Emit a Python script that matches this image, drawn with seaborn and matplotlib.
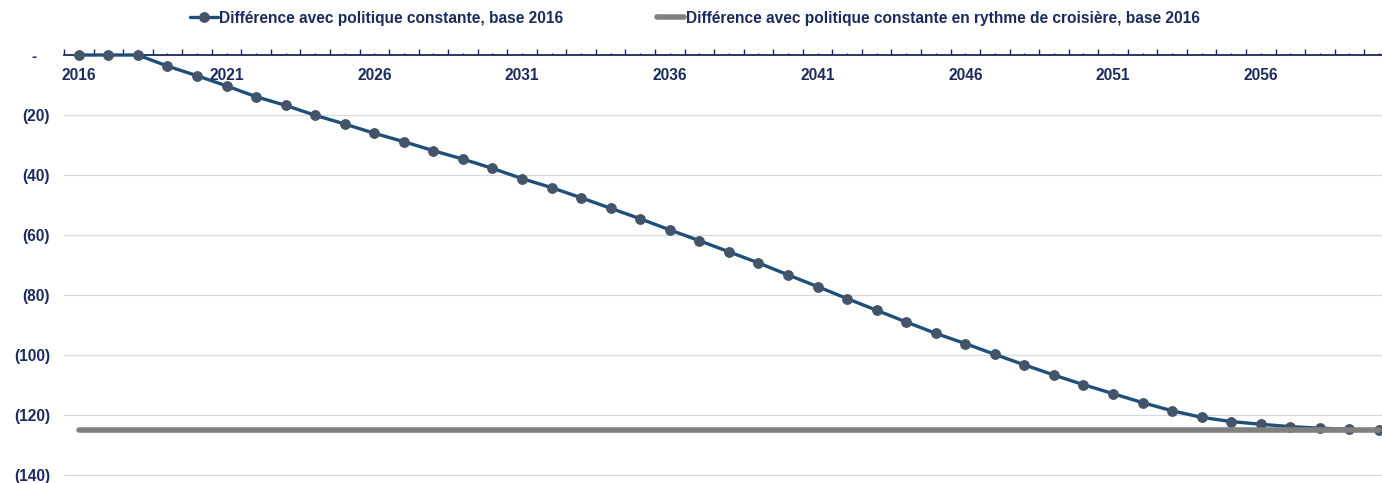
"""
Différence avec politique constante, base 2016
"""
import pandas as pd
import matplotlib
matplotlib.use("Agg")
import matplotlib.pyplot as plt
from matplotlib.ticker import FixedLocator, FuncFormatter
import seaborn as sns

# data
years = list(range(2016, 2061))
diff_constante = [
    0.0, 0.0, 0.0, -3.7, -6.9, -10.3, -13.9, -16.8, -20.1, -23.0,
    -26.1, -28.9, -31.9, -34.7, -37.8, -41.2, -44.2, -47.6, -51.1, -54.6,
    -58.3, -61.9, -65.6, -69.3, -73.3, -77.2, -81.2, -85.1, -89.0, -92.8,
    -96.2, -99.8, -103.3, -106.7, -109.9, -112.9, -115.9, -118.6, -120.8, -122.2,
    -123.1, -123.9, -124.4, -124.8, -125.0,
]
diff_croisiere = [-125.0] * len(years)
label_constante = "Différence avec politique constante, base 2016"
label_croisiere = "Différence avec politique constante en rythme de croisière, base 2016"

navy = "#1B2B5E"
blue_line = "#1F4E79"
marker_col = "#44546A"
grey_line = "#808080"

df = pd.DataFrame({"year": years, "constante": diff_constante, "croisiere": diff_croisiere})

sns.set_style("white")
plt.rcParams["font.family"] = ["Liberation Sans", "DejaVu Sans"]
plt.rcParams["font.weight"] = "bold"

W, H = 1382, 483
fig = plt.figure(figsize=(W / 100, H / 100), dpi=100)
ax = fig.add_axes([64 / W, 1 - 476 / H, (W - 64) / W, (476 - 55) / H])

sns.lineplot(data=df, x="year", y="constante", ax=ax, color=blue_line, linewidth=2.4,
             marker="o", markersize=7, markerfacecolor=marker_col,
             markeredgecolor=marker_col, label=label_constante, clip_on=False, zorder=3)
sns.lineplot(data=df, x="year", y="croisiere", ax=ax, color=grey_line, linewidth=4,
             solid_capstyle="round", label=label_croisiere, zorder=4)

ax.set_xlim(2015.5, 2015.5 + (W - 64) / 29.55)
ax.set_ylim(-140.35, 0)
ax.set_xlabel("")
ax.set_ylabel("")

# y axis: accounting style labels
ax.set_yticks(range(-140, 1, 20))

def acct(value, _):
    if abs(value) < 1e-9:
        return "-   "
    return f"({abs(value):.0f})"

ax.yaxis.set_major_formatter(FuncFormatter(acct))
ax.tick_params(axis="y", length=0, pad=10, labelsize=11.2, labelcolor=navy)
ax.grid(axis="y", color="#D9D9D9", linewidth=0.9)
ax.grid(axis="x", visible=False)

# x axis sits at zero, ticks pointing up
for side in ["left", "right", "top"]:
    ax.spines[side].set_visible(False)
ax.spines["bottom"].set_position(("data", 0))
ax.spines["bottom"].set_color(navy)
ax.spines["bottom"].set_linewidth(1.3)
ax.spines["bottom"].set_zorder(2)

ax.xaxis.set_major_locator(FixedLocator(years))
ax.xaxis.set_minor_locator(FixedLocator([y - 0.5 for y in years] + [years[-1] + 0.5]))
ax.xaxis.set_major_formatter(FuncFormatter(lambda v, _: f"{int(round(v))}" if (int(round(v)) - 2016) % 5 == 0 else ""))
ax.tick_params(axis="x", which="both", bottom=True)
ax.tick_params(axis="x", which="major", direction="in", length=1.8, width=1, color=navy,
               pad=9, labelsize=11.2, labelcolor=navy)
ax.tick_params(axis="x", which="minor", direction="in", length=4, width=1, color=navy)

handles, labels = ax.get_legend_handles_labels()
ax.get_legend().remove()
fig.legend(handles, labels, loc="center", bbox_to_anchor=(0.503, 1 - 18 / H), ncol=2,
           frameon=False, handlelength=1.75, handletextpad=0.12,
           columnspacing=6.0, labelcolor=navy, prop={"weight": "bold", "size": 11.2})

fig.savefig("out.png", dpi=100, facecolor="white")
